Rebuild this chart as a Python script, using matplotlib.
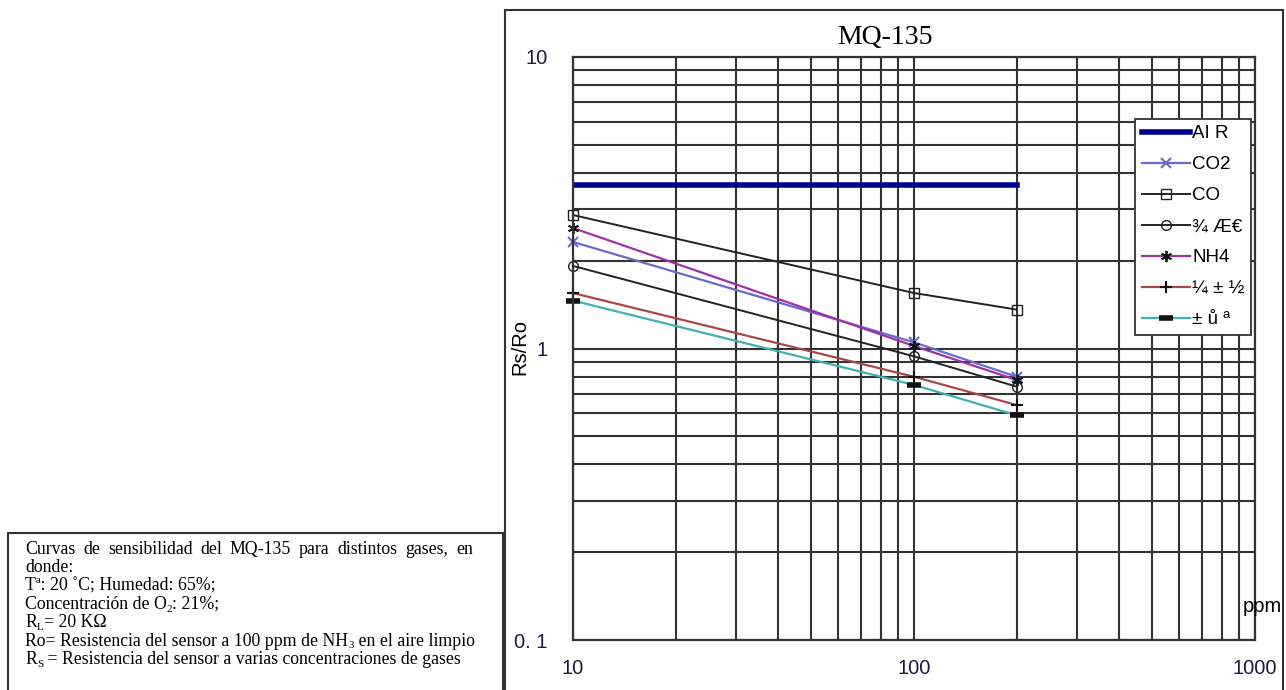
import numpy as np
import matplotlib
matplotlib.use('Agg')
import matplotlib.pyplot as plt
from matplotlib.patches import Rectangle
from matplotlib.ticker import FixedLocator, NullFormatter, LogLocator

# ppm points where the curves were read
ppm = [10, 100, 200]

air = [3.64, 3.64, 3.64]
co2 = [2.32, 1.05, 0.80]
co = [2.87, 1.55, 1.36]
alcohol = [1.92, 0.94, 0.74]
nh4 = [2.59, 1.02, 0.78]
toluene = [1.55, 0.80, 0.64]
acetone = [1.46, 0.75, 0.59]

labels = ["AI R", "CO2", "CO", "¾ Æ€", "NH4", "¼ ± ½", "± ů ª"]

yticks = [0.1, 1, 10]
ytick_labels = ["0. 1", "1", "10"]
xticks = [10, 100, 1000]
xtick_labels = ["10", "100", "1000"]

# note lines as (text, subscript?) pieces
note_lines = [[("Curvas de sensibilidad del MQ-135 para distintos gases, en", False)],
              [("donde:", False)],
              [("Tª: 20 ˚C; Humedad: 65%;", False)],
              [("Concentración de O", False), ("2", True), (": 21%;", False)],
              [("R", False), ("L", True), ("= 20 KΩ", False)],
              [("Ro= Resistencia del sensor a 100 ppm de NH", False), ("3", True),
               (" en el aire limpio", False)],
              [("R", False), ("S", True), (" = Resistencia del sensor a varias concentraciones de gases", False)]]

W, H = 1286, 690
fig = plt.figure(figsize=(W / 100, H / 100), dpi=100)

# outer frame around the chart and the note box
fig.add_artist(Rectangle((505 / W, -0.01), (1283 - 505) / W, (H - 10) / H + 0.01,
                         transform=fig.transFigure, fill=False, lw=1.5, ec='#333333'))
fig.add_artist(Rectangle((8 / W, -0.01), (503 - 8) / W, (H - 533) / H + 0.01,
                         transform=fig.transFigure, fill=False, lw=1.5, ec='#333333'))

ax = fig.add_axes([573 / W, 50 / H, (1255 - 573) / W, (640 - 57) / H])
ax.set_xscale('log')
ax.set_yscale('log')
ax.set_xlim(10, 1000)
ax.set_ylim(0.1, 10)

ax.xaxis.set_major_locator(FixedLocator(xticks))
ax.yaxis.set_major_locator(FixedLocator(yticks))
ax.xaxis.set_minor_locator(LogLocator(base=10, subs=np.arange(2, 10)))
ax.yaxis.set_minor_locator(LogLocator(base=10, subs=np.arange(2, 10)))
ax.xaxis.set_minor_formatter(NullFormatter())
ax.yaxis.set_minor_formatter(NullFormatter())
ax.set_xticklabels(xtick_labels, fontsize=14.5, family='Liberation Sans', color='#1a1a40')
ax.set_yticklabels(ytick_labels, fontsize=14.5, family='Liberation Sans', color='#1a1a40')
ax.tick_params(which='both', length=0)
ax.tick_params(axis='x', pad=14)
ax.tick_params(axis='y', pad=18)
ax.grid(True, which='both', color='#333333', lw=1.5)
for s in ax.spines.values():
    s.set_color('#333333')
    s.set_linewidth(1.6)

ax.plot(ppm, air, color='#000090', lw=4, label=labels[0])
ax.plot(ppm, co2, color='#6a6acc', lw=1.6, marker='x', ms=7, mew=1.5, label=labels[1], clip_on=False)
ax.plot(ppm, co, color='#222222', lw=1.4, marker='s', ms=7, mfc='none', mew=1, label=labels[2], clip_on=False)
ax.plot(ppm, alcohol, color='#222222', lw=1.4, marker='o', ms=7, mfc='none', mew=1, label=labels[3], clip_on=False)
ax.plot(ppm, nh4, color='#a030a8', lw=1.6, marker=(6, 2, 0), ms=8, mec='#111111', mew=1.3,
        label=labels[4], clip_on=False)
ax.plot(ppm, toluene, color='#a84848', lw=1.6, marker='+', ms=8, mec='#111111', mew=1.5,
        label=labels[5], clip_on=False)
ax.plot(ppm, acetone, color='#40b0b0', lw=1.6, marker='_', ms=10, mec='#111111', mew=4,
        label=labels[6], clip_on=False)

leg = ax.legend(loc='upper left', bbox_to_anchor=(0.824, 0.894), frameon=True, fancybox=False,
                edgecolor='#333333', framealpha=1, handlelength=2.6,
                handletextpad=0.1, borderpad=0.35, labelspacing=0.74, borderaxespad=0,
                prop={'family': 'Liberation Sans', 'size': 13.5})
leg.get_frame().set_linewidth(1.3)

fig.text(885 / W, 1 - 38 / H, "MQ-135", ha='center', va='center', fontsize=20,
         family='Liberation Serif')
fig.text(520 / W, 1 - 347 / H, "Rs/Ro", ha='center', va='center', rotation=90,
         fontsize=14.5, family='Liberation Sans')
fig.text(1262 / W, 1 - 607 / H, "ppm", ha='center', va='center', fontsize=14.5,
         family='Liberation Sans')

# note box: pieces placed one after another, first line justified
renderer = fig.canvas.get_renderer()
x0, x1 = 25, 473
fs = 12.8
for i, pieces in enumerate(note_lines):
    yb = 554 + i * 18.3  # baseline in pixels from top
    if i == 0:
        words = pieces[0][0].split(' ')
        txts = [fig.text(0, 1 - yb / H, w, ha='left', va='baseline', fontsize=fs,
                         family='Liberation Serif') for w in words]
        widths = [t.get_window_extent(renderer).width for t in txts]
        gap = (x1 - x0 - sum(widths)) / (len(words) - 1)
        x = x0
        for t, w in zip(txts, widths):
            t.set_x(x / W)
            x += w + gap
        continue
    x = x0
    for txt, sub in pieces:
        if sub:
            t = fig.text(x / W, 1 - (yb + 3) / H, txt, ha='left', va='baseline',
                         fontsize=fs * 0.62, family='Liberation Serif')
        else:
            t = fig.text(x / W, 1 - yb / H, txt, ha='left', va='baseline', fontsize=fs,
                         family='Liberation Serif')
        x += t.get_window_extent(renderer).width

fig.savefig('out.png', dpi=100)
